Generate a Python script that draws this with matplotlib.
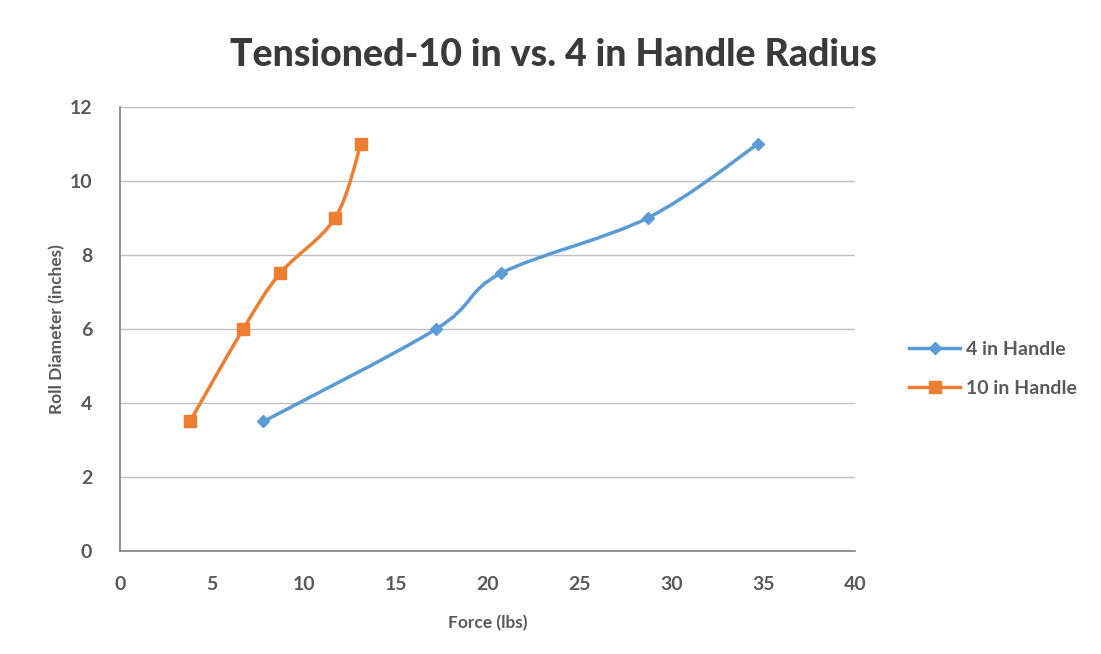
import matplotlib
matplotlib.use("Agg")
import matplotlib.pyplot as plt
from matplotlib.path import Path
from matplotlib.patches import PathPatch
from matplotlib.lines import Line2D
import numpy as np

plt.rcParams['font.family'] = ['Lato', 'DejaVu Sans']

title = "Tensioned-10 in vs. 4 in Handle Radius"
x_label = "Force (lbs)"
y_label = "Roll Diameter (inches)"
series_names = ["4 in Handle", "10 in Handle"]
force_4in = [7.8, 17.2, 20.7, 28.7, 34.7]
diam_4in = [3.5, 6.0, 7.5, 9.0, 11.0]
force_10in = [3.8, 6.7, 8.7, 11.7, 13.1]
diam_10in = [3.5, 6.0, 7.5, 9.0, 11.0]
x_ticks = [0, 5, 10, 15, 20, 25, 30, 35, 40]
y_ticks = [0, 2, 4, 6, 8, 10, 12]

blue = "#5B9BD5"
orange = "#ED7D31"
text_c = "#595959"

fig = plt.figure(figsize=(11.01, 6.54), dpi=100)
ax = fig.add_axes([0.109, 0.1575, 0.668, 0.679])


def smooth_path(xs, ys):
    pts = np.column_stack([xs, ys]).astype(float)
    n = len(pts)
    verts = [pts[0]]
    codes = [Path.MOVETO]
    for i in range(n - 1):
        p0 = pts[i - 1] if i > 0 else pts[i]
        p1 = pts[i]
        p2 = pts[i + 1]
        p3 = pts[i + 2] if i + 2 < n else pts[i + 1]
        c1 = p1 + (p2 - p0) / 6.0
        c2 = p2 - (p3 - p1) / 6.0
        verts += [c1, c2, p2]
        codes += [Path.CURVE4] * 3
    return Path(verts, codes)


for xs, ys, c, m, ms in [(force_4in, diam_4in, blue, 'D', 6),
                          (force_10in, diam_10in, orange, 's', 8)]:
    patch = PathPatch(smooth_path(xs, ys), facecolor='none', edgecolor=c,
                      lw=2.5, zorder=3, capstyle='round')
    ax.add_patch(patch)
    ax.plot(xs, ys, ls='none', marker=m, ms=ms, color=c, zorder=4)

ax.set_xlim(0, 40)
ax.set_ylim(0, 12)
ax.set_xticks(x_ticks)
ax.set_yticks(y_ticks)
ax.grid(axis='y', color='#BFBFBF', lw=1.0)
ax.set_axisbelow(True)
for s in ['top', 'right']:
    ax.spines[s].set_visible(False)
for s in ['left', 'bottom']:
    ax.spines[s].set_color('#7F7F7F')
    ax.spines[s].set_linewidth(1.2)
ax.tick_params(axis='x', length=0, labelsize=14, colors=text_c, pad=18)
ax.tick_params(axis='y', length=0, labelsize=14, colors=text_c, pad=20)
for lab in ax.get_xticklabels() + ax.get_yticklabels():
    lab.set_color(text_c)
    lab.set_fontweight('bold')

ax.set_xlabel(x_label, fontsize=12.5, fontweight='bold', color=text_c, labelpad=16)
ax.set_ylabel(y_label, fontsize=12.5, fontweight='bold', color=text_c, labelpad=3)
fig.text(0.503, 0.916, title, ha='center', va='center', fontsize=27,
         fontweight='black', color='#3A3A3A')

handles = [Line2D([], [], color=blue, lw=2.5, marker='D', ms=6),
           Line2D([], [], color=orange, lw=2.5, marker='s', ms=8)]
leg = fig.legend(handles, series_names, loc='center left', bbox_to_anchor=(0.81, 0.436),
                 frameon=False, fontsize=14, labelcolor=text_c, handlelength=2.6,
                 labelspacing=1.1, handletextpad=0.3)
for t in leg.get_texts():
    t.set_fontweight('bold')

fig.savefig("out.png", dpi=100)
